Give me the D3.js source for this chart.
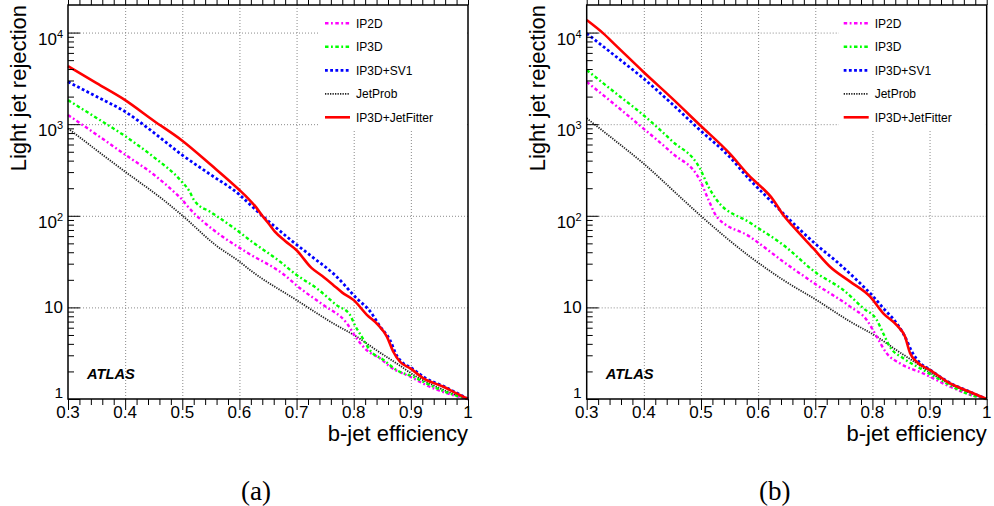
<!DOCTYPE html>
<html><head><meta charset="utf-8">
<script src="https://cdn.jsdelivr.net/npm/d3@7"></script>
<style>body{margin:0;background:#fff} svg{display:block}</style>
</head><body>
<svg id="c" width="994" height="506"></svg>
<script>
// ---------- data ----------
const seriesNames = ["IP2D", "IP3D", "IP3D+SV1", "JetProb", "IP3D+JetFitter"];
const xMajorTicks = [0.3, 0.4, 0.5, 0.6, 0.7, 0.8, 0.9, 1.0];
const xTickLabels = ["0.3", "0.4", "0.5", "0.6", "0.7", "0.8", "0.9", "1"];
const yMajorTicks = [1, 10, 100, 1000, 10000];
const yTickBase = ["1", "10", "10", "10", "10"];
const yTickExp = ["", "", "2", "3", "4"];
const xTitle = "b-jet efficiency";
const yTitle = "Light jet rejection";
const panelCaptions = ["(a)", "(b)"];
const atlasLabel = "ATLAS";

// panel (a): [b-jet efficiency, light jet rejection]
const ip2dA = [[0.30,1260],[0.35,770],[0.40,465],[0.45,282],[0.49,172],[0.50,150],[0.5075,131],[0.537,86],[0.566,62],[0.6125,40],[0.677,23],[0.706,16.2],[0.747,10.6],[0.788,6.7],[0.805,4.6],[0.823,3.4],[0.846,2.78],[0.8635,2.25],[0.899,1.75],[0.933,1.36],[0.97,1.12],[1.0,1.0]];
const ip3dA = [[0.30,1830],[0.35,1170],[0.40,740],[0.449,442],[0.499,236],[0.513,183],[0.52,150],[0.525,137],[0.5485,111],[0.595,70],[0.6185,54],[0.671,31.6],[0.70,22.6],[0.735,16.2],[0.77,10.6],[0.7935,8.3],[0.802,6.4],[0.814,4.8],[0.8285,3.4],[0.852,2.67],[0.875,2.07],[0.904,1.75],[0.933,1.42],[0.968,1.15],[1.0,1.0]];
const sv1A = [[0.30,2900],[0.35,2000],[0.40,1370],[0.45,810],[0.50,460],[0.55,280],[0.60,170],[0.62,130],[0.64,100],[0.66,78],[0.689,55],[0.729,35],[0.767,22.6],[0.805,12.6],[0.829,9.0],[0.846,6.2],[0.8635,4.4],[0.875,3.0],[0.885,2.5],[0.90,2.2],[0.925,1.7],[0.96,1.35],[1.0,1.0]];
const jetProbA = [[0.30,900],[0.35,520],[0.40,303],[0.467,149],[0.499,102],[0.56,47],[0.60,31.6],[0.6185,25.6],[0.70,12.0],[0.764,6.7],[0.805,4.8],[0.84,3.4],[0.875,2.45],[0.91,1.75],[0.945,1.36],[0.98,1.1],[1.0,1.0]];
const jetFitterA = [[0.30,4300],[0.35,2800],[0.40,1830],[0.45,1090],[0.50,660],[0.55,360],[0.60,191],[0.615,155],[0.63,122],[0.64,100],[0.65,84],[0.662,67],[0.68,53],[0.70,42],[0.726,27],[0.745,22],[0.764,17.6],[0.78,14.5],[0.80,12.0],[0.823,8.3],[0.843,6.4],[0.858,4.8],[0.869,3.3],[0.881,2.55],[0.899,2.16],[0.922,1.68],[0.957,1.36],[0.98,1.15],[1.0,1.0]];

// panel (b)
const ip2dB = [[0.30,2900],[0.35,1620],[0.399,900],[0.45,480],[0.498,246],[0.513,150],[0.5275,98],[0.5858,59],[0.644,31.6],[0.7025,17.6],[0.761,10.2],[0.79,7.3],[0.8075,4.8],[0.825,3.15],[0.848,2.45],[0.889,1.9],[0.936,1.36],[0.97,1.12],[1.0,1.0]];
const ip3dB = [[0.30,3900],[0.35,2200],[0.399,1260],[0.45,650],[0.498,330],[0.513,208],[0.5275,149],[0.5858,84],[0.644,48],[0.7025,23.6],[0.749,15.5],[0.784,9.8],[0.8075,7.3],[0.819,5.2],[0.8308,3.7],[0.854,2.78],[0.889,2.07],[0.924,1.55],[0.965,1.15],[1.0,1.0]];
const sv1B = [[0.30,9800],[0.35,5550],[0.399,3170],[0.45,1650],[0.498,865],[0.55,440],[0.583,257],[0.62,150],[0.644,106],[0.7025,48],[0.7375,31.6],[0.7725,19.9],[0.8015,13.1],[0.819,9.8],[0.8425,6.7],[0.857,4.8],[0.87,3.2],[0.88,2.6],[0.90,2.1],[0.936,1.5],[0.97,1.2],[1.0,1.0]];
const jetProbB = [[0.30,1160],[0.35,660],[0.399,374],[0.469,149],[0.498,102],[0.5858,35.8],[0.644,19.9],[0.7025,12.0],[0.761,7.0],[0.8075,4.8],[0.8425,3.4],[0.8775,2.45],[0.9125,1.75],[0.959,1.25],[1.0,1.0]];
const jetFitterB = [[0.30,13700],[0.329,9800],[0.35,7350],[0.399,3740],[0.45,1900],[0.498,980],[0.55,480],[0.583,279],[0.6266,149],[0.644,102],[0.66,78],[0.6966,44],[0.7258,27.8],[0.761,19.1],[0.796,13.1],[0.819,8.6],[0.8425,6.4],[0.857,4.8],[0.866,3.15],[0.8775,2.55],[0.901,2.07],[0.936,1.48],[0.97,1.2],[1.0,1.0]];

// ---------- styles ----------
const seriesStyle = {
  "IP2D": {color: "#ff00ff", width: 2.4, dash: "3.5,2.5,1.8,2.5"},
  "IP3D": {color: "#00ff00", width: 2.4, dash: "3.5,2.5,1.8,2.5"},
  "IP3D+SV1": {color: "#0000ff", width: 2.8, dash: "2.8,2.4"},
  "JetProb": {color: "#222222", width: 1.8, dash: "1.3,1.2"},
  "IP3D+JetFitter": {color: "#ff0000", width: 2.6, dash: null}
};

const panels = [
  {x0: 68, caption: panelCaptions[0], data: [ip2dA, ip3dA, sv1A, jetProbA, jetFitterA]},
  {x0: 586.7, caption: panelCaptions[1], data: [ip2dB, ip3dB, sv1B, jetProbB, jetFitterB]}
];

const svg = d3.select("#c");
const W = 400, yTop = 5, yBot = 399;
const font = "'Liberation Sans', Arial, Helvetica, sans-serif";

panels.forEach((p, pi) => {
  const x = d3.scaleLinear().domain([0.3, 1.0]).range([p.x0, p.x0 + W]);
  const y = d3.scaleLog().domain([1, 20000]).range([yBot, yTop]);
  const g = svg.append("g");

  // grid
  const gridStyle = s => s.attr("stroke", "#8a8a8a").attr("stroke-width", 1).attr("stroke-dasharray", "1,2");
  g.append("g").attr("transform", `translate(0,${yBot})`)
    .call(d3.axisBottom(x).tickValues(xMajorTicks.filter(v => v > 0.31 && v < 0.99)).tickSize(-(yBot - yTop)).tickFormat(""))
    .call(a => a.select(".domain").remove())
    .call(a => a.selectAll("line").call(gridStyle));
  g.append("g").attr("transform", `translate(${p.x0},0)`)
    .call(d3.axisLeft(y).tickValues(yMajorTicks.filter(v => v > 1)).tickSize(-W).tickFormat(""))
    .call(a => a.select(".domain").remove())
    .call(a => a.selectAll("line").call(gridStyle));

  // curves
  const line = d3.line().x(d => x(d[0])).y(d => y(d[1])).curve(d3.curveMonotoneX);
  const order = [3, 0, 1, 2, 4];
  order.forEach(i => {
    const st = seriesStyle[seriesNames[i]];
    g.append("path").datum(p.data[i]).attr("d", line)
      .attr("fill", "none").attr("stroke", st.color).attr("stroke-width", st.width)
      .attr("stroke-dasharray", st.dash).attr("stroke-linejoin", "round");
  });

  // legend
  const lx = p.x0 + 252;
  g.append("rect").attr("x", lx).attr("y", yTop + 1).attr("width", p.x0 + W - lx - 1).attr("height", 124).attr("fill", "#fff");
  const legY = d3.scaleLinear().domain([0, 4]).range([23.3, 117.3]);
  seriesNames.forEach((nm, i) => {
    const st = seriesStyle[nm];
    const yy = legY(i);
    g.append("line").attr("x1", p.x0 + 257).attr("x2", p.x0 + 282).attr("y1", yy).attr("y2", yy)
      .attr("stroke", st.color).attr("stroke-width", st.width).attr("stroke-dasharray", st.dash);
    g.append("text").attr("x", p.x0 + 288).attr("y", yy + 4.3).text(nm)
      .attr("font-family", font).attr("font-size", 12).attr("fill", "#000");
  });

  // ticks
  const xMinor = d3.range(0.32, 0.999, 0.02).filter(v => Math.abs(v * 10 - Math.round(v * 10)) > 1e-6);
  const yMinor = [];
  for (let dec = 1; dec <= 10000; dec *= 10) for (let k = 2; k <= 9; k++) if (dec * k < 20000) yMinor.push(dec * k);
  const tickStyle = a => { a.select(".domain").remove(); a.selectAll("line").attr("stroke", "#000").attr("stroke-width", 1); };
  [[yBot, -1], [yTop, 1]].forEach(([yy, dir]) => {
    g.append("g").attr("transform", `translate(0,${yy})`)
      .call(d3.axisBottom(x).tickValues(xMajorTicks).tickSize(-11 * dir).tickFormat("")).call(tickStyle);
    g.append("g").attr("transform", `translate(0,${yy})`)
      .call(d3.axisBottom(x).tickValues(xMinor).tickSize(-6 * dir).tickFormat("")).call(tickStyle);
  });
  g.append("g").attr("transform", `translate(${p.x0},0)`)
    .call(d3.axisLeft(y).tickValues(yMajorTicks).tickSize(-12).tickFormat("")).call(tickStyle);
  g.append("g").attr("transform", `translate(${p.x0},0)`)
    .call(d3.axisLeft(y).tickValues(yMinor).tickSize(-6).tickFormat("")).call(tickStyle);

  // frame
  g.append("rect").attr("x", p.x0).attr("y", yTop).attr("width", W).attr("height", yBot - yTop)
    .attr("fill", "none").attr("stroke", "#000").attr("stroke-width", 1.5);

  // x tick labels
  xMajorTicks.forEach((v, i) => {
    g.append("text").attr("x", x(v)).attr("y", 417.5).attr("text-anchor", "middle")
      .attr("font-family", font).attr("font-size", 17).text(xTickLabels[i]);
  });
  // y tick labels
  yMajorTicks.forEach((v, i) => {
    const ty = y(v);
    if (yTickExp[i] === "") {
      const isOne = v === 1;
      g.append("text").attr("x", p.x0 - 5).attr("y", ty + (isOne ? -0.8 : 6)).attr("text-anchor", "end")
        .attr("font-family", font).attr("font-size", isOne ? 15.5 : 17).text(yTickBase[i]);
    } else {
      const t = g.append("text").attr("x", p.x0 - 5).attr("y", ty + 12).attr("text-anchor", "end")
        .attr("font-family", font).attr("font-size", 17);
      t.append("tspan").text(yTickBase[i]);
      t.append("tspan").attr("font-size", 11).attr("dy", -7).text(yTickExp[i]);
    }
  });

  // axis titles
  g.append("text").attr("x", p.x0 + W).attr("y", 441).attr("text-anchor", "end")
    .attr("font-family", font).attr("font-size", 22).text(xTitle);
  g.append("text").attr("transform", `translate(${p.x0 - 42},${yTop}) rotate(-90)`).attr("text-anchor", "end")
    .attr("font-family", font).attr("font-size", 22).text(yTitle);

  // ATLAS
  g.append("text").attr("x", p.x0 + 19).attr("y", 379).attr("font-family", font)
    .attr("font-size", 14.7).attr("font-weight", "bold").attr("font-style", "italic").text(atlasLabel);

  // caption
  g.append("text").attr("x", p.x0 + 188).attr("y", 500).attr("text-anchor", "middle")
    .attr("font-family", "'Liberation Serif', 'DejaVu Serif', serif").attr("font-size", 27).text(p.caption);
});
</script>
</body></html>
